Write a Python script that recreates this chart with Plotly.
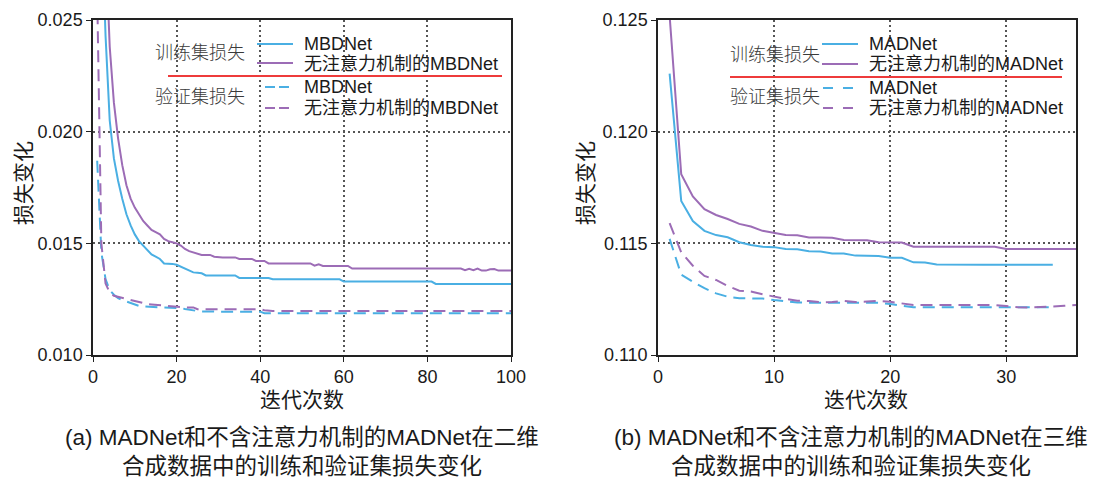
import plotly.graph_objects as go

# ---------------- data ----------------
epochs_left = list(range(1, 101))
mbd_train = ([0.0400, 0.0300, 0.0243, 0.0205, 0.0188, 0.0178, 0.0170, 0.0163, 0.0158, 0.0154,
              0.0151, 0.0149, 0.0147, 0.0145, 0.0144, 0.0143, 0.0141, 0.01410, 0.01408, 0.01404,
              0.01395, 0.01388, 0.01378, 0.01370, 0.01368, 0.01366]
             + [0.01356] * 8 + [0.01345] * 8 + [0.01339] * 17 + [0.01329] * 22 + [0.01318] * 19)
mbd_noatt_train = ([0.0450, 0.0360, 0.0285, 0.0238, 0.0213, 0.0197, 0.0185, 0.0176, 0.0170, 0.0166,
                    0.0163, 0.0160, 0.0158, 0.0156, 0.0155, 0.0154, 0.0152, 0.0151, 0.01505, 0.01500,
                    0.01490, 0.01475, 0.01465, 0.01460, 0.01455, 0.01448, 0.01448, 0.01448, 0.01440]
                   + [0.01437] * 5 + [0.01430] * 4 + [0.01421] * 3 + [0.01410] * 11
                   + [0.01400, 0.01406] + [0.01399] * 7 + [0.01387] * 27
                   + [0.01380, 0.01386, 0.01380, 0.01387, 0.01378, 0.01378, 0.01384, 0.01385,
                      0.01378, 0.01378, 0.01378, 0.01378])
mbd_val = ([0.0187, 0.0146, 0.0134, 0.0129, 0.0127, 0.01255, 0.01246, 0.0124, 0.01232, 0.01225,
            0.01220, 0.01218, 0.01216, 0.01215, 0.01214]
           + [0.01213] * 5 + [0.01210, 0.01206, 0.01202, 0.01199, 0.01197, 0.01195]
           + [0.01194] * 14 + [0.01187] * 60)
mbd_noatt_val = ([0.0262, 0.0150, 0.0132, 0.0128, 0.01265, 0.0126, 0.01255, 0.0125, 0.01245, 0.0124,
                  0.01235, 0.01232, 0.01228, 0.01226, 0.01224, 0.01222, 0.01220, 0.01218, 0.01216, 0.01215]
                 + [0.01213] * 4 + [0.01205] * 16 + [0.01200] + [0.01197] * 59)

epochs_right_34 = list(range(1, 35))
epochs_right_36 = list(range(1, 37))
mad_train = ([0.1226, 0.1169, 0.1160, 0.11556, 0.11537, 0.11527, 0.11505, 0.11493, 0.11485, 0.11483,
              0.11475, 0.11474, 0.11465, 0.11463, 0.11455, 0.11454, 0.11445, 0.11444, 0.11443, 0.11436,
              0.11435, 0.11415, 0.11414, 0.11405] + [0.11404] * 10)
mad_noatt_train = ([0.1252, 0.1181, 0.1171, 0.11653, 0.11627, 0.11609, 0.11587, 0.11575, 0.11556, 0.11545,
                    0.11537, 0.11536, 0.11526, 0.11526, 0.11525, 0.11515, 0.11515, 0.11514, 0.11505, 0.11505,
                    0.11504] + [0.11485] * 8 + [0.11475] * 7)
mad_val = ([0.1152, 0.1136, 0.11328, 0.11299, 0.11276, 0.11261, 0.11254, 0.11254, 0.11253, 0.11246,
            0.11240, 0.11235, 0.11234, 0.11234, 0.11234, 0.11234, 0.11234, 0.11234, 0.11234, 0.11228,
            0.11222] + [0.11214] * 13)
mad_noatt_val = ([0.1159, 0.1146, 0.1140, 0.11354, 0.11336, 0.11309, 0.11288, 0.11284, 0.11272, 0.11261,
                  0.11251, 0.11243, 0.11242, 0.11236, 0.11237, 0.11242, 0.11237, 0.11239, 0.11242, 0.11238,
                  0.11232] + [0.11224] * 8 + [0.11219, 0.11214, 0.11213, 0.11214, 0.11217, 0.11220, 0.11224])

left_yticks = [0.010, 0.015, 0.020, 0.025]
right_yticks = [0.110, 0.115, 0.120, 0.125]
left_xticks = [0, 20, 40, 60, 80, 100]
right_xticks = [0, 10, 20, 30]

legend_group_labels = ["训练集损失", "验证集损失"]
left_names = ["MBDNet", "无注意力机制的MBDNet"]
right_names = ["MADNet", "无注意力机制的MADNet"]
x_title = "迭代次数"
y_title = "损失变化"
caption_a = ["(a) MADNet和不含注意力机制的MADNet在二维", "合成数据中的训练和验证集损失变化"]
caption_b = ["(b) MADNet和不含注意力机制的MADNet在三维", "合成数据中的训练和验证集损失变化"]

# ---------------- style ----------------
W, H = 1106, 478
BLUE = "#4AAFE3"
PURPLE = "#9C6CB6"
RED = "#EE3B3B"
FONT = "Liberation Sans, Arial, Noto Sans CJK SC, sans-serif"
DASH = "12px,7px"


def px(x):
    return x / W


def py(y):
    return 1 - y / H


fig = go.Figure()


def add(x, y, color, dash, xa, ya):
    fig.add_trace(go.Scatter(x=x, y=y, mode="lines", xaxis=xa, yaxis=ya, showlegend=False,
                             line=dict(color=color, width=2, dash=dash)))


add(epochs_left, mbd_val, BLUE, DASH, "x", "y")
add(epochs_left, mbd_noatt_val, PURPLE, DASH, "x", "y")
add(epochs_left, mbd_train, BLUE, "solid", "x", "y")
add(epochs_left, mbd_noatt_train, PURPLE, "solid", "x", "y")

add(epochs_right_34, mad_val, BLUE, DASH, "x2", "y2")
add(epochs_right_36, mad_noatt_val, PURPLE, DASH, "x2", "y2")
add(epochs_right_34, mad_train, BLUE, "solid", "x2", "y2")
add(epochs_right_36, mad_noatt_train, PURPLE, "solid", "x2", "y2")

axis_common = dict(showline=True, linecolor="#222", linewidth=1.5, mirror=True,
                   ticks="outside", ticklen=5, tickcolor="#222", tickwidth=1.2,
                   showgrid=True, gridcolor="#555", gridwidth=1.5, griddash="2px,3px",
                   zeroline=False, automargin=False,
                   tickfont=dict(family=FONT, size=18, color="#1a1a1a"))

fig.update_layout(
    template="none",
    width=W, height=H, autosize=False, margin=dict(l=0, r=0, t=0, b=0, pad=0),
    paper_bgcolor="white", plot_bgcolor="white",
    font=dict(family=FONT, color="#1a1a1a"),
    xaxis=dict(domain=[px(93), px(511)], range=[0, 100], tickvals=left_xticks,
               anchor="y", **axis_common),
    yaxis=dict(domain=[py(355), py(20)], range=[0.010, 0.025], tickvals=left_yticks,
               tickformat=".3f", anchor="x", **axis_common),
    xaxis2=dict(domain=[px(658), px(1076)], range=[0, 36], tickvals=right_xticks,
                anchor="y2", **axis_common),
    yaxis2=dict(domain=[py(355), py(20)], range=[0.110, 0.125], tickvals=right_yticks,
                tickformat=".3f", anchor="x2", **axis_common),
)

ann = []
shapes = []


def text(x, y, s, size, color="#1a1a1a", angle=0, xanchor="center", weight=None):
    f = dict(family=FONT, size=size, color=color)
    if weight is not None:
        f["weight"] = weight
    ann.append(dict(x=px(x), y=py(y), xref="paper", yref="paper", text=s, showarrow=False,
                    xanchor=xanchor, yanchor="middle", textangle=angle, font=f))


def seg(x0, x1, y, color, dash="solid", width=2):
    shapes.append(dict(type="line", xref="paper", yref="paper", x0=px(x0), x1=px(x1),
                       y0=py(y), y1=py(y), line=dict(color=color, width=width, dash=dash)))


# axis titles
text(23, 183, y_title, 21, angle=-90)
text(585, 183, y_title, 21, angle=-90)
text(302, 399, x_title, 21)
text(866, 399, x_title, 21)

# captions
text(302, 437, caption_a[0], 22.5)
text(302, 466, caption_a[1], 22.5)
text(851, 437, caption_b[0], 22.5)
text(851, 466, caption_b[1], 22.5)

# legend – left
text(153, 53, legend_group_labels[0], 18, color="#3a3a3a", xanchor="left", weight=300)
text(153, 97, legend_group_labels[1], 18, color="#3a3a3a", xanchor="left", weight=300)
seg(257, 293, 44, BLUE)
seg(257, 293, 63, PURPLE)
seg(265, 290, 87, BLUE, dash="10px,4px")
seg(265, 290, 108, PURPLE, dash="10px,4px")
text(302, 44, left_names[0], 18, xanchor="left")
text(302, 64, left_names[1], 18, xanchor="left")
text(302, 87, left_names[0], 18, xanchor="left")
text(302, 108, left_names[1], 18, xanchor="left")
seg(168, 502, 76, RED)

# legend – right
text(728, 55, legend_group_labels[0], 18, color="#3a3a3a", xanchor="left", weight=300)
text(728, 97, legend_group_labels[1], 18, color="#3a3a3a", xanchor="left", weight=300)
seg(822, 858, 44, BLUE)
seg(822, 858, 64, PURPLE)
seg(823, 855, 88, BLUE, dash="10px,10px")
seg(823, 855, 108, PURPLE, dash="10px,10px")
text(867, 44, right_names[0], 18, xanchor="left")
text(867, 64, right_names[1], 18, xanchor="left")
text(867, 88, right_names[0], 18, xanchor="left")
text(867, 108, right_names[1], 18, xanchor="left")
seg(730, 1062, 77, RED)

fig.update_layout(annotations=ann, shapes=shapes)
fig.write_html("out.html")
